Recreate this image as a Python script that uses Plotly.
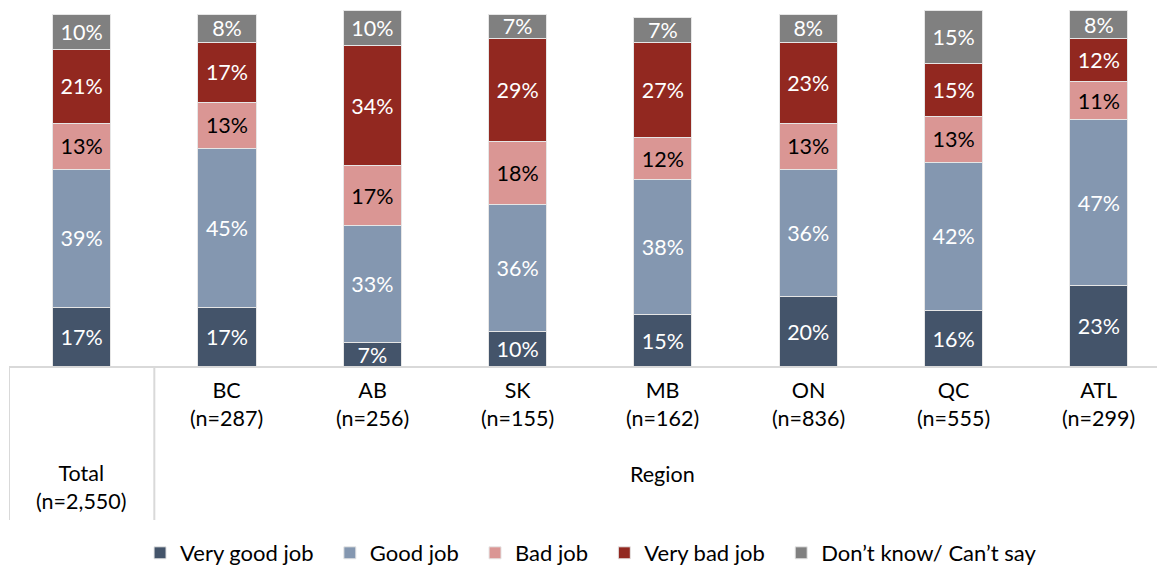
import plotly.graph_objects as go

# Survey results by region: share of respondents per rating
categories = ["Total", "BC", "AB", "SK", "MB", "ON", "QC", "ATL"]
cat_labels = ["Total<br>(n=2,550)", "BC<br>(n=287)", "AB<br>(n=256)", "SK<br>(n=155)",
              "MB<br>(n=162)", "ON<br>(n=836)", "QC<br>(n=555)", "ATL<br>(n=299)"]

very_good = [17, 17, 7, 10, 15, 20, 16, 23]
good = [39, 45, 33, 36, 38, 36, 42, 47]
bad = [13, 13, 17, 18, 12, 13, 13, 11]
very_bad = [21, 17, 34, 29, 27, 23, 15, 12]
dont_know = [10, 8, 10, 7, 7, 8, 15, 8]

series = [
    ("Very good job", very_good, "#44546A", "white"),
    ("Good job", good, "#8497B0", "white"),
    ("Bad job", bad, "#DA9694", "black"),
    ("Very bad job", very_bad, "#922820", "white"),
    ("Don\u2019t know/ Can\u2019t say", dont_know, "#808080", "white"),
]

FONT = "Lato, Carlito, Calibri, sans-serif"
FS = 21.5
x_idx = list(range(len(categories)))
PAD = "\u00a0\u00a0"  # extra room between legend entries

fig = go.Figure()
for k, (name, vals, color, tcolor) in enumerate(series):
    fig.add_trace(go.Bar(
        x=x_idx, y=vals, name=name + (PAD if k < len(series) - 1 else ""),
        marker=dict(color=color, line=dict(color="#e6e6e6", width=1)),
        text=[f"{v}%" for v in vals],
        textposition="inside", insidetextanchor="middle",
        constraintext="none",
        textfont=dict(color=tcolor, size=FS, family=FONT),
        hoverinfo="skip",
    ))

# category labels below the axis (plot area is 367 px tall)
PLOT_H = 367.0
annotations = []
for i, lab in enumerate(cat_labels):
    y = -(487 - PLOT_H) / PLOT_H if i == 0 else -(404 - PLOT_H) / PLOT_H
    annotations.append(dict(x=i, y=y, xref="x", yref="paper", text=lab,
                            showarrow=False, align="center", yanchor="middle",
                            font=dict(size=FS, family=FONT, color="black")))
annotations.append(dict(x=4, y=-(474 - PLOT_H) / PLOT_H, xref="x", yref="paper",
                        text="Region", showarrow=False, yanchor="middle",
                        font=dict(size=FS, family=FONT, color="black")))

grid = "#d9d9d9"
line_bottom = -(520 - PLOT_H) / PLOT_H
shapes = [
    dict(type="line", xref="paper", yref="paper", x0=0, x1=1, y0=0, y1=0,
         line=dict(color=grid, width=2)),
    dict(type="line", xref="x", yref="paper", x0=-0.5, x1=-0.5, y0=0, y1=line_bottom,
         line=dict(color=grid, width=2)),
    dict(type="line", xref="x", yref="paper", x0=0.5, x1=0.5, y0=0, y1=line_bottom,
         line=dict(color=grid, width=2)),
]

fig.update_layout(
    width=1157, height=565,
    barmode="stack", bargap=0.6,
    margin=dict(l=9, r=0, t=0, b=198, autoexpand=False),
    paper_bgcolor="white", plot_bgcolor="white",
    font=dict(family=FONT, size=FS, color="black"),
    xaxis=dict(range=[-0.5, 7.4], showticklabels=False, showgrid=False,
               zeroline=False, showline=False, ticks=""),
    yaxis=dict(range=[0, 104], visible=False),
    showlegend=True,
    legend=dict(orientation="h", x=0.507, xanchor="center",
                y=-(553 - PLOT_H) / PLOT_H, yanchor="middle",
                font=dict(size=22, family=FONT), traceorder="normal",
                itemwidth=30, itemclick=False),
    annotations=annotations,
    shapes=shapes,
)

fig.write_html("out.html")
